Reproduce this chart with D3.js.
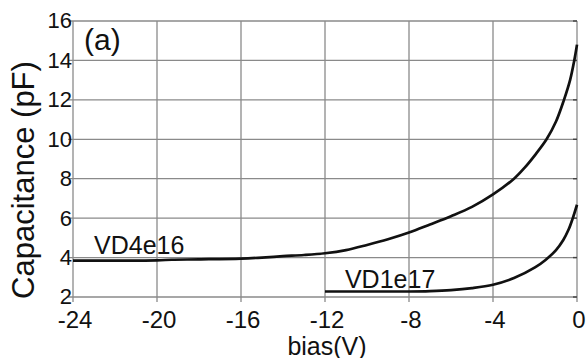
<!DOCTYPE html>
<html>
<head>
<meta charset="utf-8">
<script src="https://cdn.jsdelivr.net/npm/d3@7"></script>
<style>
  html, body { margin: 0; padding: 0; background: #fff; }
  svg { display: block; font-family: "Liberation Sans", Arial, sans-serif; }
</style>
</head>
<body>
<svg id="chart" width="588" height="358"></svg>
<script>
// Bias sweep (V) and measured capacitance (pF) for the two varactor doping levels
const biasVD4e16 = [-24, -20, -19.3, -18, -16, -15, -14, -13, -12, -11, -10, -9, -8, -7, -6, -5, -4, -3, -2.5, -2, -1.45, -1, -0.62, -0.33, -0.13, 0];
const capVD4e16  = [3.85, 3.86, 3.89, 3.91, 3.95, 4.0, 4.07, 4.13, 4.22, 4.38, 4.64, 4.93, 5.27, 5.68, 6.1, 6.57, 7.2, 8.0, 8.55, 9.2, 10.0, 10.9, 12.0, 13.0, 14.0, 14.8];

const biasVD1e17 = [-12, -10, -8, -7, -6, -5, -4, -3, -2, -1.5, -1, -0.66, -0.4, -0.2, 0];
const capVD1e17  = [2.28, 2.28, 2.28, 2.3, 2.35, 2.45, 2.62, 2.96, 3.5, 3.88, 4.38, 4.88, 5.42, 6.0, 6.68];

const xTicks = [-24, -20, -16, -12, -8, -4, 0];
const yTicks = [2, 4, 6, 8, 10, 12, 14, 16];

const seriesLabels = [
  { text: "VD4e16", x: -23.0, y: 4.2 },
  { text: "VD1e17", x: -11.05, y: 2.46 }
];

const margin = { left: 73, right: 11, top: 21, bottom: 61 };
const W = 588, H = 358;
const svg = d3.select("#chart");
svg.append("rect").attr("width", W).attr("height", H).attr("fill", "#fff");

const x = d3.scaleLinear().domain([-24, 0]).range([margin.left, W - margin.right]);
const y = d3.scaleLinear().domain([2, 16]).range([H - margin.bottom, margin.top]);

const gridColor = "#8a8a8a";

// grid lines
const grid = svg.append("g");
grid.selectAll("line.v").data(xTicks).join("line")
  .attr("x1", d => x(d)).attr("x2", d => x(d))
  .attr("y1", y(16)).attr("y2", y(2) + 5)
  .attr("stroke", gridColor).attr("stroke-width", 1.3);
grid.selectAll("line.h").data(yTicks).join("line")
  .attr("x1", x(-24) - 5).attr("x2", x(0))
  .attr("y1", d => y(d)).attr("y2", d => y(d))
  .attr("stroke", gridColor).attr("stroke-width", 1.3);

// short inner ticks along the right edge
grid.selectAll("line.rt").data(yTicks).join("line")
  .attr("x1", x(0) - 4).attr("x2", x(0))
  .attr("y1", d => y(d)).attr("y2", d => y(d))
  .attr("stroke", "#444").attr("stroke-width", 1.4);

// axis tick labels
svg.append("g").selectAll("text").data(yTicks).join("text")
  .attr("x", x(-24) - 1).attr("y", d => y(d))
  .attr("dy", "0.34em")
  .attr("text-anchor", "end")
  .attr("font-size", 22).attr("fill", "#111")
  .text(d => d);

svg.append("g").selectAll("text").data(xTicks).join("text")
  .attr("x", d => x(d) + 2).attr("y", 328)
  .attr("text-anchor", "middle")
  .attr("font-size", 24).attr("fill", "#111")
  .text(d => d);

// axis titles
svg.append("text")
  .attr("x", (x(-24) + x(0)) / 2 + 2).attr("y", 355)
  .attr("text-anchor", "middle").attr("font-size", 25).attr("fill", "#111")
  .text("bias(V)");

svg.append("text")
  .attr("transform", "translate(34," + 180 + ") rotate(-90)")
  .attr("text-anchor", "middle").attr("font-size", 31).attr("fill", "#111")
  .text("Capacitance (pF)");

// panel tag
svg.append("text")
  .attr("x", 84).attr("y", 50)
  .attr("font-size", 30).attr("fill", "#111")
  .text("(a)");

// curves
const line = d3.line()
  .x(d => x(d[0])).y(d => y(d[1]))
  .curve(d3.curveCatmullRom.alpha(0.5));

svg.append("path")
  .datum(d3.zip(biasVD4e16, capVD4e16))
  .attr("d", line)
  .attr("fill", "none").attr("stroke", "#111").attr("stroke-width", 2.7);

svg.append("path")
  .datum(d3.zip(biasVD1e17, capVD1e17))
  .attr("d", line)
  .attr("fill", "none").attr("stroke", "#111").attr("stroke-width", 2.7);

// series labels
svg.append("g").selectAll("text").data(seriesLabels).join("text")
  .attr("x", d => x(d.x)).attr("y", d => y(d.y))
  .attr("font-size", 25).attr("fill", "#111")
  .text(d => d.text);
</script>
</body>
</html>
